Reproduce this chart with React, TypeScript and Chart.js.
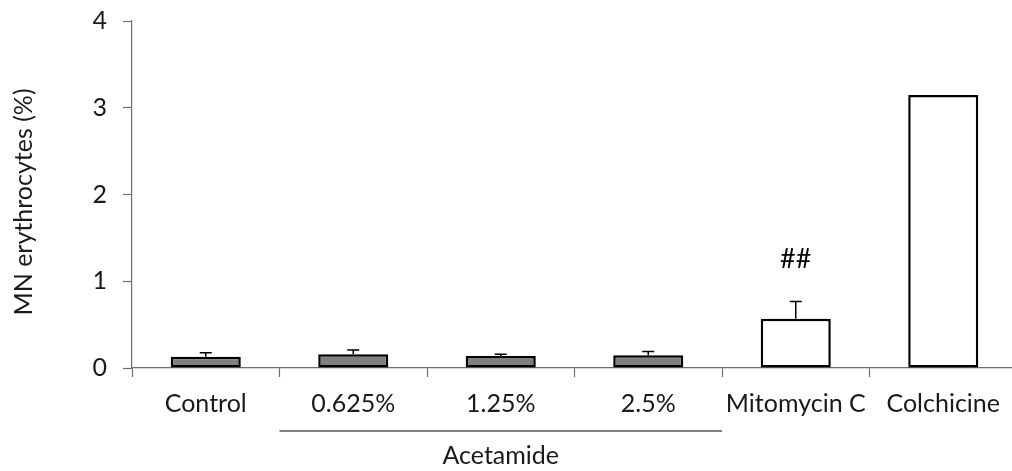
import React, { useEffect, useRef } from "react";
import { Chart, registerables } from "chart.js";

Chart.register(...registerables);

const categories = ["Control", "0.625%", "1.25%", "2.5%", "Mitomycin C", "Colchicine"];
const means = [0.13, 0.158, 0.138, 0.146, 0.568, 3.147];
const errors = [0.045, 0.05, 0.02, 0.045, 0.2, 0];
const barColors = ["#7f7f7f", "#7f7f7f", "#7f7f7f", "#7f7f7f", "#ffffff", "#ffffff"];
const yTicks = [0, 1, 2, 3, 4];
const yTitle = "MN erythrocytes (%)";
const groupLabel = "Acetamide";
const groupStart = 1;
const groupEnd = 3;
const sigLabel = "##";
const sigIndex = 4;

const FONT = "Lato, 'Open Sans', sans-serif";
const TEXT = "#1a1a1a";
const AXIS = "#6e6e6e";
const FS = 25;
const FS_Y = 25;

const extrasPlugin = {
  id: "extras",
  afterDatasetsDraw(chart: any) {
    const ctx = chart.ctx;
    const meta = chart.getDatasetMeta(0);
    const y = chart.scales.y;
    const x = chart.scales.x;
    ctx.save();
    // error bars
    ctx.strokeStyle = "#000";
    ctx.lineWidth = 1.5;
    meta.data.forEach((bar: any, i: number) => {
      if (!errors[i]) return;
      const top = y.getPixelForValue(means[i]);
      const et = y.getPixelForValue(means[i] + errors[i]);
      ctx.beginPath();
      ctx.moveTo(bar.x, top);
      ctx.lineTo(bar.x, et);
      ctx.moveTo(bar.x - 6, et);
      ctx.lineTo(bar.x + 6, et);
      ctx.stroke();
    });
    // significance
    const sb = meta.data[sigIndex];
    ctx.fillStyle = "#000";
    ctx.font = `27px ${FONT}`;
    ctx.textAlign = "center";
    ctx.textBaseline = "middle";
    ctx.fillText(sigLabel, sb.x, y.getPixelForValue(means[sigIndex] + errors[sigIndex]) - 42);
    // group bracket
    const cw = x.getPixelForValue(1) - x.getPixelForValue(0);
    const gx0 = x.getPixelForValue(groupStart) - cw / 2;
    const gx1 = x.getPixelForValue(groupEnd) + cw / 2;
    const ly = chart.chartArea.bottom + 63;
    ctx.strokeStyle = "#595959";
    ctx.lineWidth = 1.5;
    ctx.beginPath();
    ctx.moveTo(gx0, ly);
    ctx.lineTo(gx1, ly);
    ctx.stroke();
    ctx.fillStyle = TEXT;
    ctx.font = `${FS}px ${FONT}`;
    ctx.fillText(groupLabel, (gx0 + gx1) / 2, ly + 25);
    // y title
    ctx.translate(24, 202);
    ctx.rotate(-Math.PI / 2);
    ctx.fillText(yTitle, 0, 0);
    ctx.restore();
  },
};

export default function App() {
  const ref = useRef<HTMLCanvasElement>(null);
  useEffect(() => {
    if (!ref.current) return;
    const chart = new Chart(ref.current, {
      type: "bar",
      data: {
        labels: categories,
        datasets: [
          {
            data: means,
            backgroundColor: barColors,
            borderColor: "#000",
            borderWidth: 2.5,
            borderSkipped: false,
            barPercentage: 0.475,
            categoryPercentage: 1,
          },
        ],
      },
      options: {
        responsive: false,
        animation: false,
        layout: { padding: { top: 21, right: 3, left: 0, bottom: 0 } },
        plugins: { legend: { display: false }, tooltip: { enabled: false } },
        scales: {
          x: {
            offset: true,
            grid: { offset: true, drawOnChartArea: false, tickLength: 9, color: AXIS, tickWidth: 1.2 },
            border: { color: AXIS, width: 1.2 },
            ticks: { color: TEXT, font: { family: FONT, size: FS }, padding: 12, maxRotation: 0, autoSkip: false },
            afterFit: (s: any) => { s.height = 103; s.paddingLeft = 0; s.paddingRight = 0; },
          },
          y: {
            min: 0,
            max: 4,
            afterBuildTicks: (s: any) => { s.ticks = yTicks.map((v) => ({ value: v })); },
            grid: { drawOnChartArea: false, tickLength: 9, color: AXIS, tickWidth: 1.2 },
            border: { color: AXIS, width: 1.2 },
            ticks: { color: TEXT, font: { family: FONT, size: FS_Y }, padding: 16 },
            afterFit: (s: any) => { s.width = 132; s.paddingTop = 0; s.paddingBottom = 0; },
          },
        },
      },
      plugins: [extrasPlugin],
    });
    return () => chart.destroy();
  }, []);
  return (
    <div style={{ position: "fixed", left: 0, top: 0, width: 1012, height: 471, overflow: "hidden", background: "#fff" }}>
      <canvas ref={ref} width={1020} height={471} style={{ display: "block" }} />
    </div>
  );
}
